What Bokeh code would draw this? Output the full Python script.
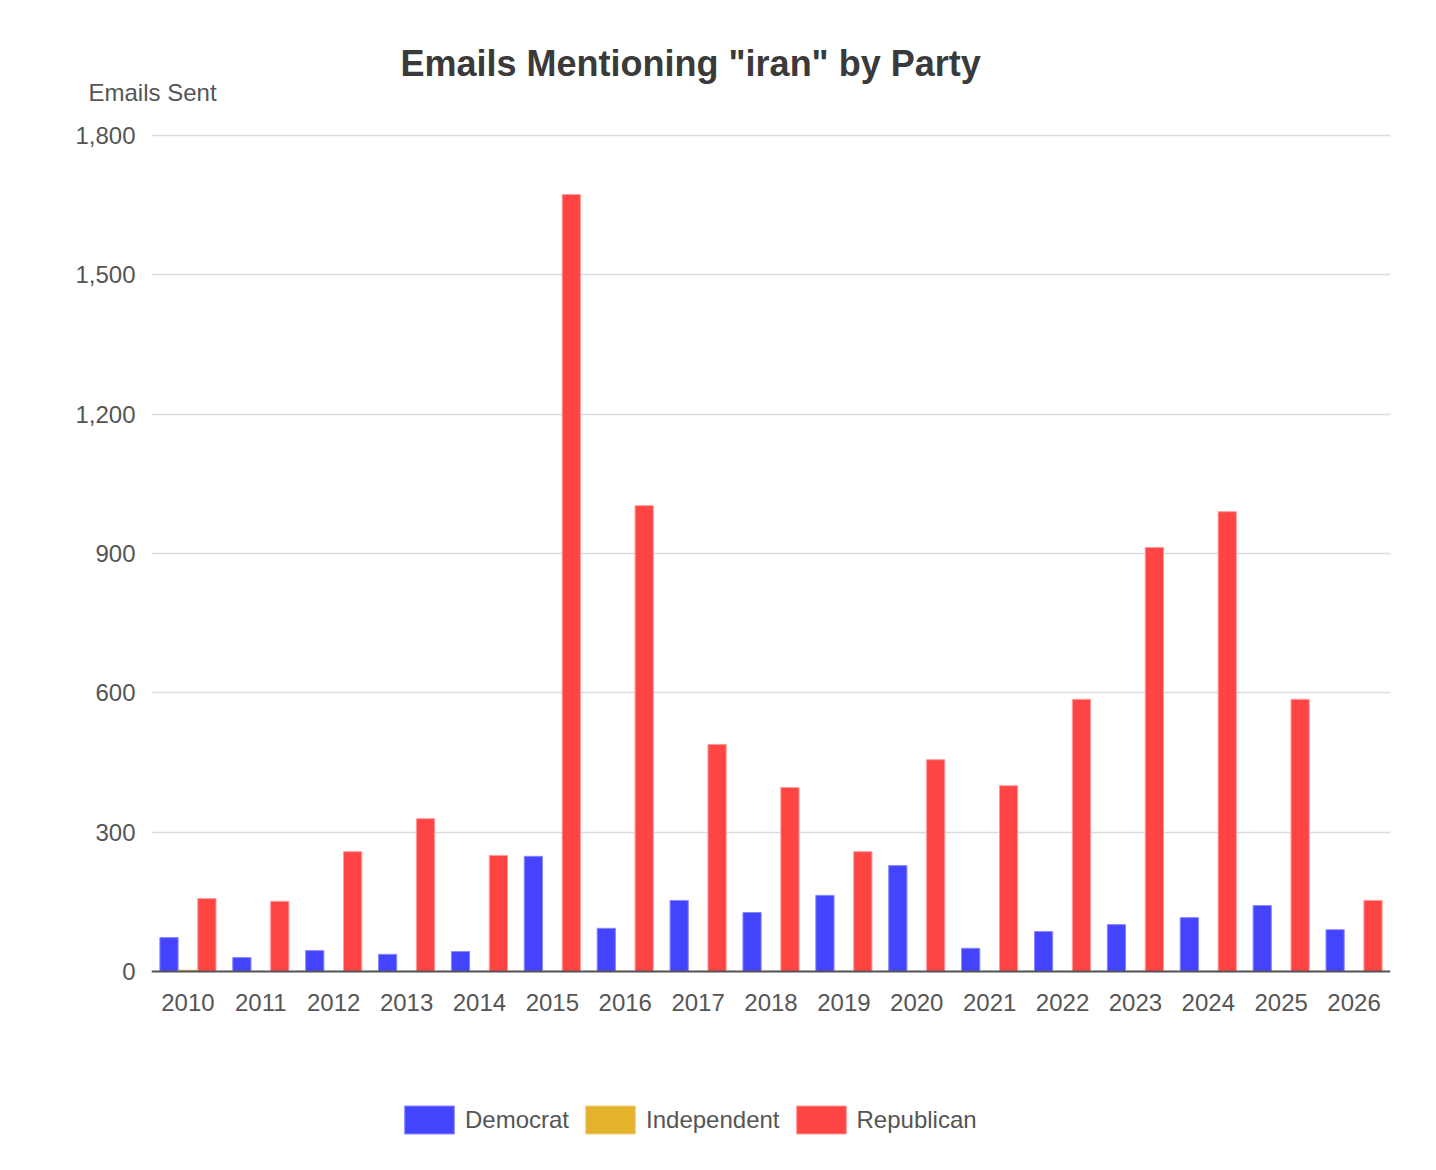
from bokeh.plotting import figure
from bokeh.models import (ColumnDataSource, FactorRange, Range1d, FixedTicker,
                          NumeralTickFormatter, Legend, LegendItem, Title, Span)
from bokeh.transform import dodge
from bokeh.embed import file_html
from bokeh.resources import INLINE

years = [str(y) for y in range(2010, 2027)]
democrat = [73, 30, 45, 37, 43, 248, 93, 153, 127, 164, 228, 50, 86, 101, 116, 142, 90]
independent = [3, 0, 0, 0, 0, 0, 0, 0, 0, 0, 0, 0, 0, 0, 0, 0, 0]
republican = [157, 151, 258, 329, 250, 1673, 1003, 489, 396, 258, 456, 400, 586, 913, 990, 586, 153]
y_ticks = [0, 300, 600, 900, 1200, 1500, 1800]

FONT = "Liberation Sans"
W, H = 1420, 1150
TOP, LEFT, RIGHT, BOTTOM = 130, 151, 30, 10     # frame borders (px)
AXIS_PX = 971                                     # pixel row of the value 0
TOP_TICK_PX = 135                                 # pixel row of the top tick
frame_bottom = H - BOTTOM
top_tick = y_ticks[-1]
scale = top_tick / (AXIS_PX - TOP_TICK_PX)
y_max = top_tick + (TOP_TICK_PX - TOP) * scale
y_min = -(frame_bottom - AXIS_PX) * scale

src = ColumnDataSource(dict(year=years, dem=democrat, ind=independent, rep=republican))

p = figure(width=W, height=H, x_range=FactorRange(*years, range_padding=0),
           y_range=Range1d(y_min, y_max), output_backend="svg", toolbar_location=None,
           x_axis_location=None,
           min_border_left=LEFT, min_border_right=RIGHT, min_border_bottom=BOTTOM,
           min_border_top=TOP)
p.title = None

r_dem = p.vbar(x=dodge("year", -0.26, range=p.x_range), top="dem", bottom=0, width=0.25,
               source=src, fill_color="#4444FF", line_color="#8888FF", line_width=1)
r_ind = p.vbar(x=dodge("year", 0.0, range=p.x_range), top="ind", bottom=0, width=0.25,
               source=src, fill_color="#E5B22B", line_color="#F0D080", line_width=1)
r_rep = p.vbar(x=dodge("year", 0.26, range=p.x_range), top="rep", bottom=0, width=0.25,
               source=src, fill_color="#FF4444", line_color="#FF9999", line_width=1)

p.outline_line_color = None
p.xgrid.grid_line_color = None
p.ygrid.grid_line_color = "#DADAE2"
p.ygrid.grid_line_width = 1.5

p.yaxis.ticker = FixedTicker(ticks=y_ticks)
p.yaxis.formatter = NumeralTickFormatter(format="0,0")
p.yaxis.axis_line_color = None
p.yaxis.major_tick_line_color = None
p.yaxis.minor_tick_line_color = None
p.yaxis.major_label_standoff = 10
p.yaxis.major_label_text_font = FONT
p.yaxis.major_label_text_font_size = "24px"
p.yaxis.major_label_text_color = "#555555"

# category axis: baseline and year labels at value 0
p.add_layout(Span(location=0, dimension="width", line_color="#555555", line_width=2))
p.text(x=years, y=[0] * len(years), text=years, y_offset=31,
       text_align="center", text_baseline="middle", text_font_size="24px",
       text_color="#555555", text_font={"value": FONT})

sub = Title(text="Emails Sent", align="left", offset=-63, text_font=FONT,
            text_font_size="24px", text_font_style="normal", text_color="#555555",
            standoff=50)
p.add_layout(sub, "above")
main = Title(text='Emails Mentioning "iran" by Party', align="left", offset=249,
             text_font=FONT, text_font_size="36px", text_font_style="bold",
             text_color="#3A3A3A", standoff=-65)
p.add_layout(main, "above")

legend = Legend(items=[LegendItem(label="Democrat", renderers=[r_dem]),
                       LegendItem(label="Independent", renderers=[r_ind]),
                       LegendItem(label="Republican", renderers=[r_rep])],
                orientation="horizontal", location=(247, 3),
                label_text_font=FONT, label_text_font_size="24px",
                label_text_color="#555555", glyph_width=62, glyph_height=35,
                spacing=10, label_standoff=5, border_line_color=None,
                background_fill_alpha=0, padding=0, margin=0)
p.add_layout(legend, "center")

open("out.html", "w").write(file_html(p, INLINE))
